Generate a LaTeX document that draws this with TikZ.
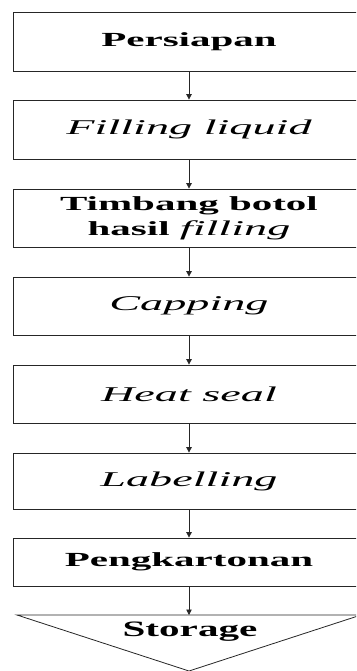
\documentclass[tikz,border=0pt]{standalone}
\usepackage{fontspec}
\setmainfont{Liberation Serif}[FakeStretch=2.05]
\newfontfamily\itfam{Liberation Serif}[FakeStretch=2.2]
\newfontfamily\stfam{Liberation Serif}[FakeStretch=1.87]
\usetikzlibrary{arrows.meta}
\tikzset{
  x=1pt, y=1pt,
  stepbox/.style={draw=black!85, line width=0.8pt, minimum width=352pt, inner sep=0pt, align=center},
  boldtxt/.style={font=\fontsize{20}{25}\selectfont\bfseries},
  ittxt/.style={font=\fontsize{21}{25}\selectfont\itfam\itshape},
  flow/.style={draw=black!85, line width=0.8pt, -{Triangle[length=5.5pt,width=5.5pt]}}
}
\begin{document}
\begin{tikzpicture}
\useasboundingbox (0,0) rectangle (356,-671);
\clip (0,0) rectangle (356,-671);
\node[stepbox, boldtxt, minimum height=59pt] (b1) at (189,-41.5) {Persiapan};
\node[stepbox, ittxt, minimum height=59pt] (b2) at (189,-129.5) {Filling liquid};
\node[stepbox, boldtxt, minimum height=58pt] (b3) at (189,-218) {Timbang botol\\hasil {\fontsize{21}{25}\selectfont\itfam\itshape\mdseries filling}};
\node[stepbox, ittxt, minimum height=58pt] (b4) at (189,-306) {Capping};
\node[stepbox, ittxt, minimum height=58pt] (b5) at (189,-394) {Heat seal};
\node[stepbox, ittxt, minimum height=56pt] (b6) at (189,-481) {Labelling};
\node[stepbox, boldtxt, minimum height=48pt] (b7) at (189,-562) {Pengkartonan};
\coordinate (tl) at (17,-615);
\coordinate (tr) at (361,-615);
\coordinate (tip) at (189,-671);
\coordinate (tt) at (189,-615);
\draw[draw=black!85, line width=0.8pt] (tl) -- (tr) -- (tip) -- cycle;
\node[font=\fontsize{22}{26}\selectfont\stfam\bfseries, inner sep=0pt] (st) at (190,-632) {Storage};
\draw[flow] (b1) -- (b2);
\draw[flow] (b2) -- (b3);
\draw[flow] (b3) -- (b4);
\draw[flow] (b4) -- (b5);
\draw[flow] (b5) -- (b6);
\draw[flow] (b6) -- (b7);
\draw[flow] (b7) -- (tt);
\end{tikzpicture}
\end{document}
